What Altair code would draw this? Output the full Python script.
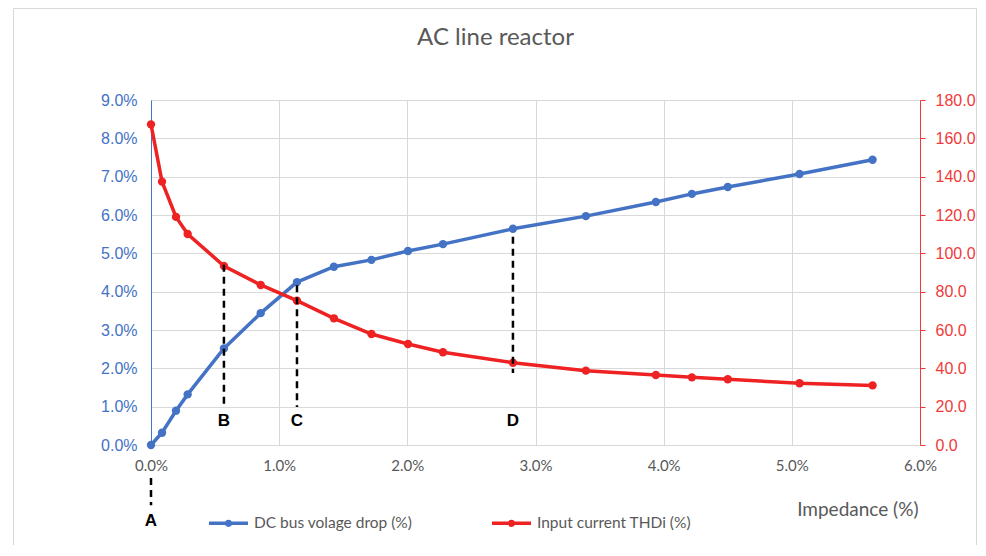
import altair as alt
import pandas as pd

# ---- data ----
impedance_pct = [0.0, 0.086, 0.195, 0.286, 0.569, 0.856, 1.139, 1.427, 1.72, 2.005,
                 2.278, 2.824, 3.393, 3.939, 4.22, 4.50, 5.06, 5.63]
dc_drop_pct = [0.0, 0.32, 0.895, 1.32, 2.52, 3.44, 4.25, 4.65, 4.83, 5.06,
               5.24, 5.64, 5.97, 6.34, 6.55, 6.73, 7.07, 7.44]
thdi = [167.3, 137.4, 119.0, 110.1, 93.4, 83.5, 75.3, 66.1, 57.9, 52.7,
        48.4, 42.9, 38.8, 36.5, 35.3, 34.3, 32.2, 31.1]
series_names = ["DC bus volage drop (%)", "Input current THDi (%)"]
chart_title = "AC line reactor"

ann_labels = ["A", "B", "C", "D"]
ann_x_pct = [0.0, 0.569, 1.139, 2.824]
ann_top_pct = [-0.86, 4.70, 4.17, 5.43]
ann_bottom_pct = [-1.57, 0.99, 0.99, 1.88]
ann_text_pct = [-1.98, 0.63, 0.63, 0.63]

x_ticks = [0, 0.01, 0.02, 0.03, 0.04, 0.05, 0.06]
left_ticks = [0, 0.01, 0.02, 0.03, 0.04, 0.05, 0.06, 0.07, 0.08, 0.09]
right_ticks = [0, 20, 40, 60, 80, 100, 120, 140, 160, 180]

BLUE = "#4472C4"
RED = "#EE2222"
RED_TXT = "#F03A3A"
GRAY = "#595959"
GRID = "#D9D9D9"

x_frac = [v / 100 for v in impedance_pct]
df_blue = pd.DataFrame({"x": x_frac, "y": [v / 100 for v in dc_drop_pct],
                        "series": series_names[0]})
df_red = pd.DataFrame({"x": x_frac, "y": thdi, "series": series_names[1]})
df_ann = pd.DataFrame({
    "label": ann_labels,
    "x": [v / 100 for v in ann_x_pct],
    "top": [v / 100 for v in ann_top_pct],
    "bottom": [v / 100 for v in ann_bottom_pct],
    "ty": [v / 100 for v in ann_text_pct],
})

x_enc = alt.X("x:Q", scale=alt.Scale(domain=[0, 0.06], nice=False),
              axis=alt.Axis(values=x_ticks, format=".1%", title="Impedance (%)",
                            labelFont="Lato", labelFontSize=15, labelColor=GRAY,
                            labelPadding=13, ticks=False, tickSize=0,
                            labelFlush=False, labelOverlap=False,
                            domainColor=GRID, gridColor=GRID, grid=True,
                            titleFont="Lato", titleFontSize=19, titleFontWeight="normal",
                            titleColor=GRAY, titleAnchor="end", titleAlign="right",
                            titleBaseline="alphabetic", titleX=767, titleY=70))

legend_symbol = ("M-1,0L1,0M-0.09,0A0.09,0.09,0,1,0,0.09,0"
                 "A0.09,0.09,0,1,0,-0.09,0Z")
color_enc = alt.Color("series:N",
                      scale=alt.Scale(domain=series_names, range=[BLUE, RED]),
                      legend=alt.Legend(orient="none", legendX=56, legendY=401.5,
                                        direction="horizontal", title=None,
                                        symbolType=legend_symbol, symbolSize=1521,
                                        symbolStrokeWidth=3.5, labelFont="Lato",
                                        labelFontSize=15.5, labelColor=GRAY,
                                        columnPadding=72, labelOffset=4, padding=0))

left_y = alt.Y("y:Q", scale=alt.Scale(domain=[0, 0.09], nice=False),
               axis=alt.Axis(values=left_ticks, format=".1%", title=None,
                             labelFont="Liberation Sans", labelFontSize=16,
                             labelColor=BLUE, labelPadding=14, ticks=False, tickSize=0,
                             labelOverlap=False, labelFlush=False, tickCount=10,
                             domainColor=BLUE, grid=True, gridColor=GRID))
right_y = alt.Y("y:Q", scale=alt.Scale(domain=[0, 180], nice=False),
                axis=alt.Axis(orient="right", values=right_ticks, format=".1f", title=None,
                              labelFont="Liberation Sans", labelFontSize=16,
                              labelColor=RED_TXT, labelPadding=10, ticks=True, tickSize=5,
                              labelOverlap=False, labelFlush=False, tickCount=10,
                              tickColor=RED_TXT, domainColor=RED_TXT, grid=False))

blue_line = alt.Chart(df_blue).mark_line(strokeWidth=3.5).encode(x=x_enc, y=left_y, color=color_enc)
blue_pts = alt.Chart(df_blue).mark_circle(size=70, opacity=1, color=BLUE).encode(x=x_enc, y=left_y)
red_line = alt.Chart(df_red).mark_line(strokeWidth=3.5).encode(x=x_enc, y=right_y, color=color_enc)
red_pts = alt.Chart(df_red).mark_circle(size=70, opacity=1, color=RED).encode(x=x_enc, y=right_y)

ann_y_scale = alt.Scale(domain=[0, 0.09], nice=False)
rules = alt.Chart(df_ann).mark_rule(strokeWidth=2.5, strokeDash=[7, 5], color="black").encode(
    x=x_enc, y=alt.Y("top:Q", scale=ann_y_scale, axis=None), y2="bottom:Q")
texts = alt.Chart(df_ann).mark_text(font="Liberation Sans", fontSize=17, fontWeight="bold",
                                    color="black", baseline="middle", align="center").encode(
    x=x_enc, y=alt.Y("ty:Q", scale=ann_y_scale, axis=None), text="label:N")

one = pd.DataFrame({"t": [chart_title]})
border = alt.Chart(one).mark_rect(
    fill="transparent", stroke=GRID, strokeWidth=1).encode(
    x=alt.value(-137.5), x2=alt.value(825.5), y=alt.value(-91.5), y2=alt.value(470))
title = alt.Chart(one).mark_text(font="Lato", fontSize=24, color=GRAY,
                                 align="center", baseline="alphabetic").encode(
    x=alt.value(344.5), y=alt.value(-55), text="t:N")

chart = alt.layer(
    alt.layer(blue_line, blue_pts),
    alt.layer(red_line, red_pts),
    alt.layer(border, title, rules, texts),
).resolve_scale(y="independent").properties(
    width=769, height=345,
    autosize=alt.AutoSizeParams(type="none"),
    padding={"left": 143, "top": 92, "right": 58, "bottom": 100},
).configure_view(strokeWidth=0).configure(background="white")

chart.save("out.html", embed_options={"renderer": "svg", "actions": False})
